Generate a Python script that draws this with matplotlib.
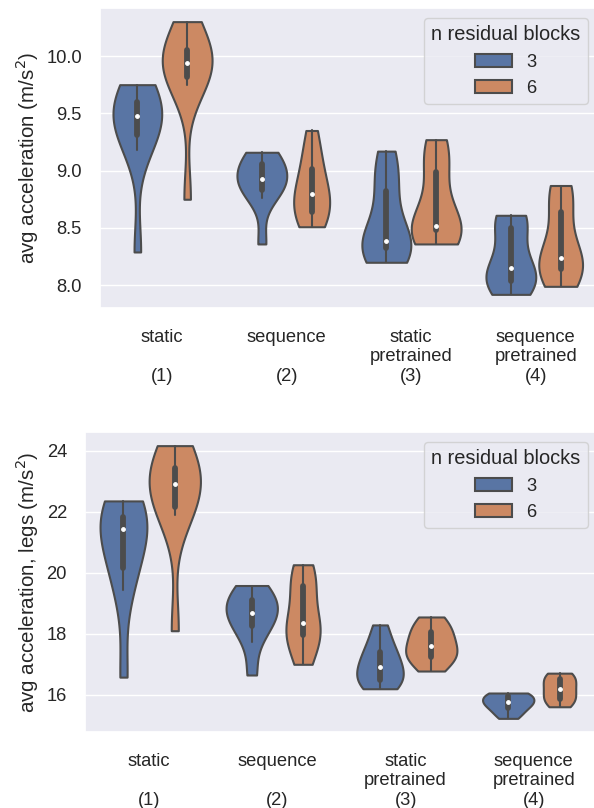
import numpy as np
import pandas as pd
import matplotlib
matplotlib.use("Agg")
import matplotlib.pyplot as plt
import seaborn as sns

categories = ["static\n\n(1)", "sequence\n\n(2)", "static\npretrained\n(3)", "sequence\npretrained\n(4)"]
hue_levels = ["3", "6"]

# avg acceleration samples per (category, n residual blocks)
acc_static_3 = [8.29, 9.18, 9.30, 9.35, 9.45, 9.50, 9.55, 9.62, 9.66, 9.75]
acc_static_6 = [8.75, 9.75, 9.80, 9.85, 9.92, 9.96, 10.02, 10.06, 10.12, 10.30]
acc_seq_3 = [8.36, 8.76, 8.82, 8.88, 8.92, 8.93, 9.00, 9.08, 9.12, 9.16]
acc_seq_6 = [8.51, 8.55, 8.62, 8.70, 8.78, 8.82, 8.90, 9.05, 9.15, 9.35]
acc_spre_3 = [8.20, 8.28, 8.32, 8.35, 8.37, 8.40, 8.65, 8.88, 9.00, 9.17]
acc_spre_6 = [8.36, 8.42, 8.47, 8.50, 8.51, 8.53, 8.80, 9.05, 9.15, 9.27]
acc_qpre_3 = [7.92, 7.98, 8.02, 8.08, 8.12, 8.18, 8.35, 8.55, 8.58, 8.61]
acc_qpre_6 = [7.99, 8.08, 8.13, 8.18, 8.22, 8.26, 8.45, 8.70, 8.80, 8.87]

# avg acceleration, legs
legs_static_3 = [16.58, 19.42, 20.0, 20.6, 21.3, 21.55, 21.7, 21.85, 22.1, 22.35]
legs_static_6 = [18.10, 21.90, 22.05, 22.40, 22.80, 23.00, 23.30, 23.45, 23.80, 24.16]
legs_seq_3 = [16.65, 17.74, 18.2, 18.45, 18.6, 18.75, 19.0, 19.15, 19.35, 19.58]
legs_seq_6 = [17.0, 17.5, 17.9, 18.1, 18.3, 18.4, 19.2, 19.7, 19.9, 20.26]
legs_spre_3 = [16.2, 16.35, 16.45, 16.6, 16.85, 17.0, 17.25, 17.45, 17.8, 18.29]
legs_spre_6 = [16.78, 17.1, 17.2, 17.35, 17.5, 17.7, 17.9, 18.1, 18.3, 18.55]
legs_qpre_3 = [15.23, 15.40, 15.52, 15.66, 15.74, 15.76, 15.86, 16.00, 16.04, 16.06]
legs_qpre_6 = [15.61, 15.75, 15.85, 15.95, 16.15, 16.22, 16.40, 16.55, 16.62, 16.71]

acc_groups = [[acc_static_3, acc_static_6], [acc_seq_3, acc_seq_6],
              [acc_spre_3, acc_spre_6], [acc_qpre_3, acc_qpre_6]]
legs_groups = [[legs_static_3, legs_static_6], [legs_seq_3, legs_seq_6],
               [legs_spre_3, legs_spre_6], [legs_qpre_3, legs_qpre_6]]


def to_frame(groups):
    rows = []
    for cat, pair in zip(categories, groups):
        for h, vals in zip(hue_levels, pair):
            for v in vals:
                rows.append({"model": cat, "n residual blocks": h, "value": v})
    return pd.DataFrame(rows)


sns.set_theme(style="darkgrid")
plt.rcParams["font.family"] = ["Liberation Sans", "DejaVu Sans"]

fig = plt.figure(figsize=(5.94, 8.08), dpi=100)
W, H = 594, 808
RIGHT = 598
ax1 = fig.add_axes([100 / W, 1 - 308 / H, (RIGHT - 100) / W, 300 / H])
ax2 = fig.add_axes([85 / W, 1 - 732 / H, (RIGHT - 85) / W, 300 / H])

TICK_FS = 13.2
LABEL_FS = 14.8

for ax, groups, ylabel in [(ax1, acc_groups, "avg acceleration (m/s$^2$)"),
                           (ax2, legs_groups, "avg acceleration, legs (m/s$^2$)")]:
    df = to_frame(groups)
    # scale violins within each category (old seaborn scale_hue behaviour)
    for i, cat in enumerate(categories):
        sub = df[df["model"] == cat]
        sns.violinplot(data=sub, x="model", y="value", hue="n residual blocks",
                       order=categories, hue_order=hue_levels, cut=0, inner="box",
                       common_norm=True, linewidth=1.5,
                       inner_kws=dict(box_width=4.2, whis_width=1.5, marker="o",
                                      markersize=2.6),
                       legend=(i == 0), ax=ax)
    ax.set_xlabel("")
    ax.set_ylabel(ylabel, fontsize=LABEL_FS)
    ax.tick_params(axis="x", labelsize=TICK_FS, pad=9)
    ax.tick_params(axis="y", labelsize=TICK_FS, pad=7)
    sns.move_legend(ax, "upper right", title="n residual blocks",
                    fontsize=TICK_FS, title_fontsize=14.4,
                    borderaxespad=0.55)

ax1.set_yticks([8.0, 8.5, 9.0, 9.5, 10.0])
ax2.set_yticks([16, 18, 20, 22, 24])

fig.savefig("out.png", dpi=100)
